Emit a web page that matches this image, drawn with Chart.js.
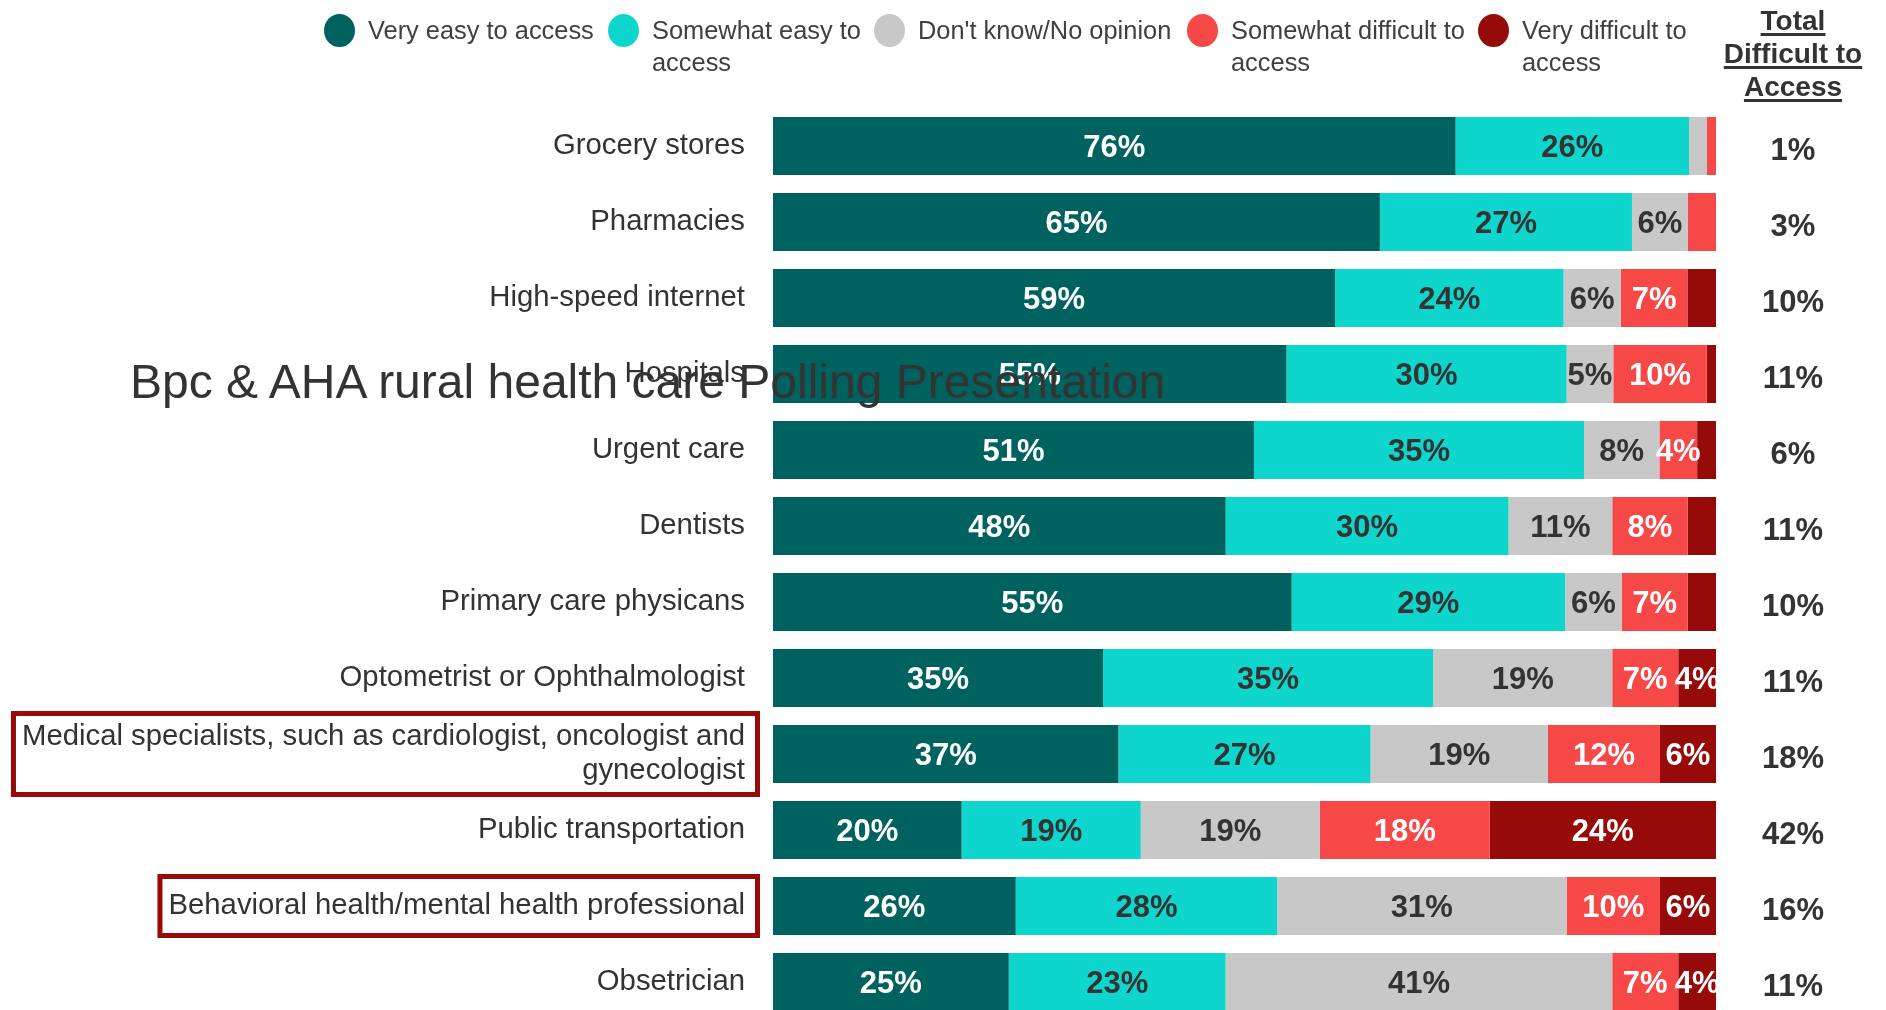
<!DOCTYPE html>
<html lang="en">
<head>
    <meta charset="UTF-8">
    <title>Access to services</title>
    <style>
        html, body {
            margin: 0;
            padding: 0;
            overflow: hidden;
            background: #fff;
        }
        body {
            font-family: "Liberation Sans", Arial, sans-serif;
            width: 1886px;
            height: 1010px;
            position: relative;
        }
        #wrap {
            position: absolute;
            left: 0;
            top: 0;
            width: 1886px;
            height: 1020px;
        }
        .legend {
            position: absolute;
            left: 324px;
            top: 14px;
            display: flex;
        }
        .legend-item {
            display: flex;
            align-items: flex-start;
        }
        .legend-dot {
            width: 31px;
            height: 33px;
            border-radius: 50%;
            margin-right: 13px;
            flex: none;
        }
        .legend-text {
            font-size: 25.4px;
            line-height: 32px;
            color: #404040;
        }
        .legend-item:nth-child(1) { width: 284px; }
        .legend-item:nth-child(2) { width: 266px; }
        .legend-item:nth-child(3) { width: 313px; }
        .legend-item:nth-child(4) { width: 291px; }
        .legend-item:nth-child(5) { width: 234px; }
        .total-head {
            position: absolute;
            left: 1713px;
            width: 160px;
            top: 4px;
            text-align: center;
            font-weight: bold;
            font-size: 28px;
            line-height: 33px;
            color: #333;
            text-decoration: underline;
            text-decoration-thickness: 3px;
            text-underline-offset: 3px;
        }
        .overlay-title {
            position: absolute;
            left: 130px;
            top: 354px;
            font-size: 48px;
            line-height: 56px;
            color: #333;
            white-space: nowrap;
        }
    </style>
</head>
<body>
    <div id="wrap"><canvas id="chart" width="1886" height="1020"></canvas></div>
    <div class="legend" id="legend"></div>
    <div class="total-head">Total<br>Difficult to<br>Access</div>
    <div class="overlay-title">Bpc &amp; AHA rural health care Polling Presentation</div>

    <script src="https://cdn.jsdelivr.net/npm/chart.js"></script>
    <script>
        const categories = [
            'Grocery stores',
            'Pharmacies',
            'High-speed internet',
            'Hospitals',
            'Urgent care',
            'Dentists',
            'Primary care physicans',
            'Optometrist or Ophthalmologist',
            ['Medical specialists, such as cardiologist, oncologist and', 'gynecologist'],
            'Public transportation',
            'Behavioral health/mental health professional',
            'Obsetrician'
        ];
        const seriesNames = ['Very easy to access', 'Somewhat easy to access', "Don't know/No opinion", 'Somewhat difficult to access', 'Very difficult to access'];
        const veryEasy          = [76, 65, 59, 55, 51, 48, 55, 35, 37, 20, 26, 25];
        const somewhatEasy      = [26, 27, 24, 30, 35, 30, 29, 35, 27, 19, 28, 23];
        const dontKnow          = [2, 6, 6, 5, 8, 11, 6, 19, 19, 19, 31, 41];
        const somewhatDifficult = [1, 3, 7, 10, 4, 8, 7, 7, 12, 18, 10, 7];
        const veryDifficult     = [0, 0, 3, 1, 2, 3, 3, 4, 6, 24, 6, 4];
        const totalDifficult    = [1, 3, 10, 11, 6, 11, 10, 11, 18, 42, 16, 11];
        const highlighted = [8, 10]; // rows with the red box round the label

        const colors = ['#00625E', '#0FD6CC', '#C8C8C8', '#F74848', '#960A0A'];
        const labelColors = ['#ffffff', '#333333', '#333333', '#ffffff', '#ffffff'];
        const FONT = '"Liberation Sans", Arial, sans-serif';

        // legend
        const legendEl = document.getElementById('legend');
        seriesNames.forEach((name, i) => {
            const item = document.createElement('div');
            item.className = 'legend-item';
            item.innerHTML = `<span class="legend-dot" style="background:${colors[i]}"></span><span class="legend-text">${name}</span>`;
            legendEl.appendChild(item);
        });

        // each row is drawn as a 100% bar, like the original
        const series = [veryEasy, somewhatEasy, dontKnow, somewhatDifficult, veryDifficult];
        const rowTotals = categories.map((c, i) => series.reduce((s, arr) => s + arr[i], 0));

        const segmentLabels = {
            id: 'segmentLabels',
            afterDatasetsDraw(chart) {
                const ctx = chart.ctx;
                const area = chart.chartArea;
                ctx.save();
                ctx.beginPath();
                ctx.rect(area.left, area.top, area.right - area.left, area.bottom - area.top);
                ctx.clip();
                ctx.font = `bold 31px ${FONT}`;
                ctx.textAlign = 'center';
                ctx.textBaseline = 'middle';
                chart.data.datasets.forEach((ds, di) => {
                    chart.getDatasetMeta(di).data.forEach((bar, i) => {
                        const v = ds.raw[i];
                        if (v < 4) return;
                        ctx.fillStyle = labelColors[di];
                        ctx.fillText(v + '%', (bar.x + bar.base) / 2, bar.y + 2);
                    });
                });
                ctx.restore();
            },
            afterDraw(chart) {
                const ctx = chart.ctx;
                const y = chart.scales.y;
                ctx.save();
                // total difficult column
                ctx.font = `bold 31px ${FONT}`;
                ctx.fillStyle = '#333';
                ctx.textAlign = 'center';
                ctx.textBaseline = 'middle';
                totalDifficult.forEach((v, i) => {
                    ctx.fillText(v + '%', 1793, y.getPixelForValue(i) + 5);
                });
                // boxes round highlighted labels
                ctx.font = `29.3px ${FONT}`;
                ctx.strokeStyle = '#960A0A';
                ctx.lineWidth = 5;
                const labelRight = y.right - 28;
                highlighted.forEach(i => {
                    const lines = [].concat(categories[i]);
                    const w = Math.max(...lines.map(l => ctx.measureText(l).width));
                    const cy = y.getPixelForValue(i);
                    const half = lines.length > 1 ? 43 : 32;
                    const left = labelRight - w - 11;
                    const right = labelRight + 15;
                    ctx.strokeRect(left + 2.5, cy - half + 2.5, right - left - 5, half * 2 - 5);
                });
                ctx.restore();
            }
        };

        const ctx = document.getElementById('chart').getContext('2d');
        new Chart(ctx, {
            type: 'bar',
            data: {
                labels: categories,
                datasets: series.map((arr, di) => ({
                    label: seriesNames[di],
                    data: arr.map((v, i) => v / rowTotals[i] * 100),
                    raw: arr,
                    backgroundColor: colors[di],
                    borderWidth: 0,
                    barPercentage: 0.763,
                    categoryPercentage: 1
                }))
            },
            options: {
                indexAxis: 'y',
                responsive: false,
                animation: false,
                layout: { padding: { top: 108, right: 170, bottom: 0, left: 0 } },
                plugins: {
                    legend: { display: false },
                    tooltip: { enabled: false }
                },
                scales: {
                    x: { stacked: true, display: false, min: 0, max: 100 },
                    y: {
                        stacked: true,
                        grid: { display: false, drawTicks: false },
                        border: { display: false },
                        ticks: {
                            color: '#333',
                            padding: 28,
                            autoSkip: false,
                            font: { family: FONT, size: 29.3, lineHeight: 1.17 }
                        },
                        afterFit(scale) {
                            scale.width = 773;
                            scale.paddingTop = 0;
                            scale.paddingBottom = 0;
                        }
                    }
                }
            },
            plugins: [segmentLabels]
        });
    </script>
</body>
</html>
